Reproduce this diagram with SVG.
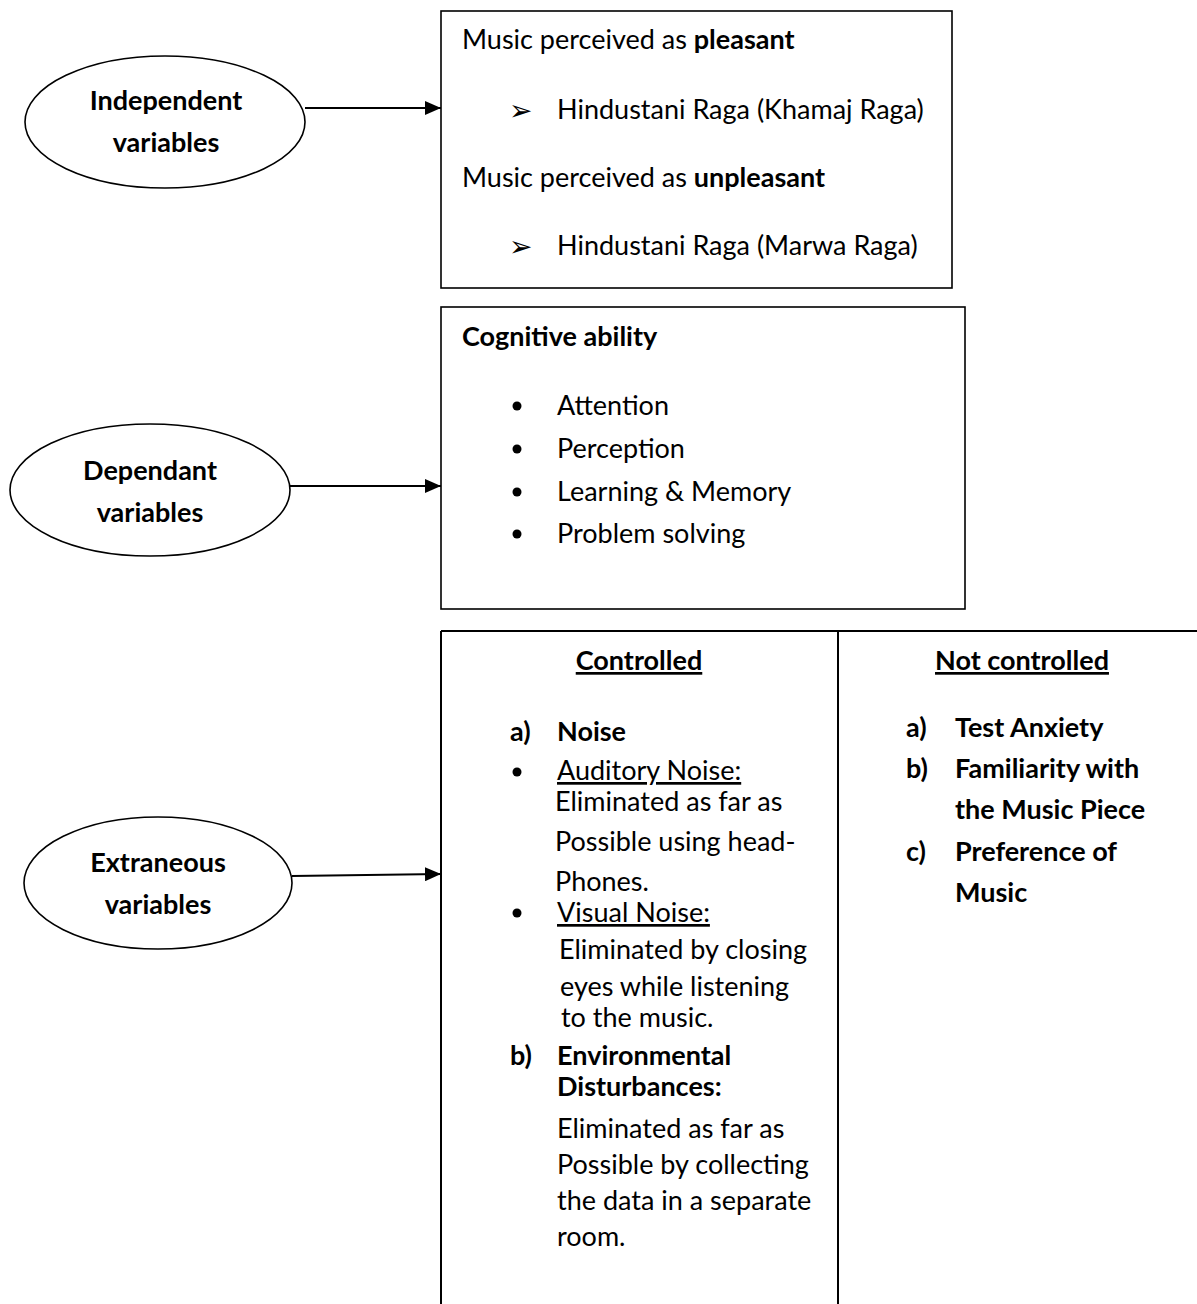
<svg xmlns="http://www.w3.org/2000/svg" width="1197" height="1304" viewBox="0 0 1197 1304">
<style>
text{font-family:Lato,"Open Sans","Liberation Sans",sans-serif;font-size:27px;fill:#000}
.b{font-weight:bold}
.u{text-decoration:underline}
.c{text-anchor:middle}
.sym{font-family:"DejaVu Sans",sans-serif;font-size:28px}
.shape{fill:#fff;stroke:#000;stroke-width:1.6}
.conn{stroke:#000;stroke-width:2;fill:none}
</style>
<defs>
<marker id="ah" markerUnits="userSpaceOnUse" markerWidth="16" markerHeight="14" refX="16" refY="7" orient="auto">
<path d="M0,0 L16,7 L0,14 Z" fill="#000"/>
</marker>
</defs>
<rect width="1197" height="1304" fill="#fff"/>

<g id="independent">
<ellipse class="shape" cx="165" cy="122" rx="140" ry="66"/>
<text class="b c" x="166" y="110">Independent</text>
<text class="b c" x="166" y="152">variables</text>
</g>

<g id="dependant">
<ellipse class="shape" cx="150" cy="490" rx="140" ry="66"/>
<text class="b c" x="150" y="480">Dependant</text>
<text class="b c" x="150" y="522">variables</text>
</g>

<g id="extraneous">
<ellipse class="shape" cx="158" cy="883" rx="134" ry="66"/>
<text class="b c" x="158" y="872">Extraneous</text>
<text class="b c" x="158" y="914">variables</text>
</g>

<g id="music-box">
<rect class="shape" x="441" y="11" width="511" height="277"/>
<text x="462" y="49">Music perceived as <tspan class="b">pleasant</tspan></text>
<text class="sym" x="509" y="120">➢</text>
<text x="557" y="119">Hindustani Raga (Khamaj Raga)</text>
<text x="462" y="187">Music perceived as <tspan class="b">unpleasant</tspan></text>
<text class="sym" x="509" y="256">➢</text>
<text x="557" y="255">Hindustani Raga (Marwa Raga)</text>
</g>

<g id="cognitive-box">
<rect class="shape" x="441" y="307" width="524" height="302"/>
<text class="b" x="462" y="346">Cognitive ability</text>
<circle cx="517" cy="406" r="4.5"/>
<text x="557" y="415">Attention</text>
<circle cx="517" cy="449" r="4.5"/>
<text x="557" y="458">Perception</text>
<circle cx="517" cy="492" r="4.5"/>
<text x="557" y="501">Learning &amp; Memory</text>
<circle cx="517" cy="534" r="4.5"/>
<text x="557" y="543">Problem solving</text>
</g>

<g id="extraneous-table">
<line class="conn" x1="441" y1="631" x2="1197" y2="631"/>
<line class="conn" x1="441" y1="631" x2="441" y2="1304"/>
<line class="conn" x1="838" y1="631" x2="838" y2="1304"/>
<text class="b u c" x="639" y="670">Controlled</text>
<text class="b u c" x="1022" y="670">Not controlled</text>

<text class="b" x="510" y="741">a)</text>
<text class="b" x="557" y="741">Noise</text>
<circle cx="517" cy="772" r="4.5"/>
<text class="u" x="557" y="780">Auditory Noise:</text>
<text x="555" y="811">Eliminated as far as</text>
<text x="555" y="851">Possible using head-</text>
<text x="555" y="891">Phones.</text>
<circle cx="517" cy="913" r="4.5"/>
<text class="u" x="557" y="922">Visual Noise:</text>
<text x="559" y="959">Eliminated by closing</text>
<text x="560" y="996">eyes while listening</text>
<text x="561" y="1027">to the music.</text>
<text class="b" x="510" y="1065">b)</text>
<text class="b" x="557" y="1065">Environmental</text>
<text class="b" x="557" y="1096">Disturbances:</text>
<text x="557" y="1138">Eliminated as far as</text>
<text x="557" y="1174">Possible by collecting</text>
<text x="557" y="1210">the data in a separate</text>
<text x="557" y="1246">room.</text>

<text class="b" x="906" y="737">a)</text>
<text class="b" x="955" y="737">Test Anxiety</text>
<text class="b" x="906" y="778">b)</text>
<text class="b" x="955" y="778">Familiarity with</text>
<text class="b" x="955" y="819">the Music Piece</text>
<text class="b" x="906" y="861">c)</text>
<text class="b" x="955" y="861">Preference of</text>
<text class="b" x="955" y="902">Music</text>
</g>

<g id="connectors">
<line class="conn" x1="305" y1="108" x2="441" y2="108" marker-end="url(#ah)"/>
<line class="conn" x1="290" y1="486" x2="441" y2="486" marker-end="url(#ah)"/>
<line class="conn" x1="292" y1="876" x2="441" y2="874" marker-end="url(#ah)"/>
</g>
</svg>
